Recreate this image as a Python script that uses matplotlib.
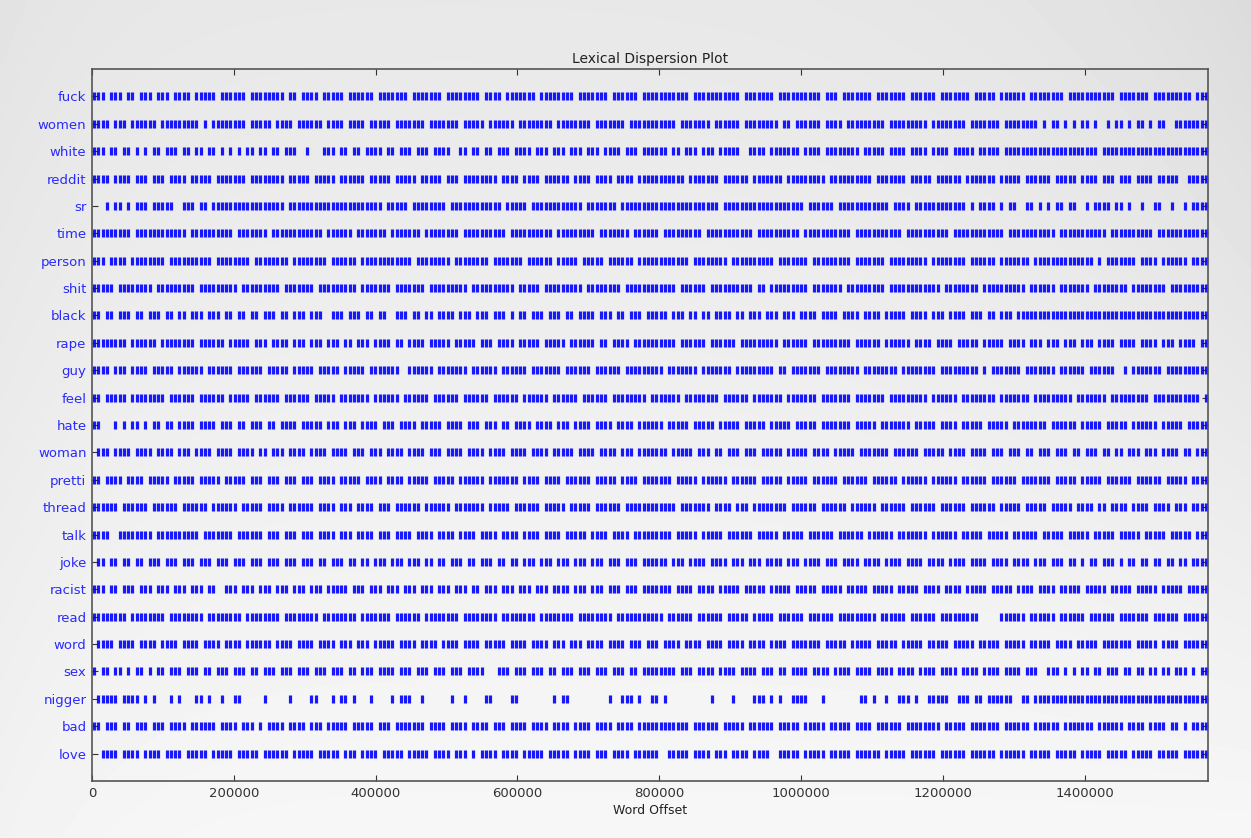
import numpy as np
import matplotlib.pyplot as plt

# words from top row to bottom row
words = ["fuck", "women", "white", "reddit", "sr", "time", "person", "shit",
         "black", "rape", "guy", "feel", "hate", "woman", "pretti", "thread",
         "talk", "joke", "racist", "read", "word", "sex", "nigger", "bad", "love"]

text_len = 1574000

# one character per slice of the text (~6000 words), '|' = word seen there
dispersion = [
    # fuck
    "||| ||| ||" " ||| ||| |" "||| ||||| " "|||||| |||" "||||| || |" "||| ||||| "
    "|||||| |||" "|||| |||||" "|| |||||||" "| |||| |||" "|||| |||||" "||| ||||||"
    "| |||||| |" "||||||||||" " |||||||||" "|| |||||||" " |||||||||" "| ||| ||||"
    "||| ||||||" "| |||||| |" "|||||| |||" "|| |||||| " "|||||||| |" "||||||||||"
    " ||||||| |" "|||||||| |" "||",
    # women
    "|||| ||| |" "||||| ||||" "||||| | ||" "|||||| |||" "|| |||| ||" "|||| |||| "
    "|||| |||||" " ||||||| |" "|||||| |||" "|| |||||| " "|||||||| |" "||||||| ||"
    "||||| ||||" "||||||| ||" "||||| ||||" "|| |||||||" "| || |||||" "| |||| |||"
    "|||||| |||" "|||||| |||" "||||| ||||" "||| ||||||" "|| | || | " "| || |  | "
    "|| | || | " "||  ||||||" "||",
    # white
    "||| || || " "| | || |||" " || || || " "| | | || |" "| || |||  " "|   ||| ||"
    " || |||| |" "| ||| ||| " "||||  || |" "| || ||| |" "||| ||| ||" "| ||| ||| "
    "|||| ||| |" "||||| || |" "|| ||| |||" "||  |||| |" "|||||| |||" "| ||||||||"
    " ||||| |||" "| |||| |||" "| ||||| ||" "||| ||||||" "||||||||||" "|||||| |||"
    "||||||||||" "||||||||||" "||",
    # reddit
    "|||| |||| " "||| ||| ||" "|| ||||| |" "|||||| |||" "||||| ||||" "| ||||| ||"
    "|||| |||||" " ||||| |||" "|| ||| |||" "||||| ||||" " |||| ||||" "|| |||| ||"
    "|| |||| ||" "||||||||| " "||||||| ||" "|||| |||||" "|| |||||||" "|| |||||||"
    "||| ||||||" "| ||||| ||" "|||| |||||" "|| ||||| |" "||||| ||||" "| |||| |||"
    " ||| |||| " "|||||  |||" "||",
    # sr
    "   | || | " "||| ||||| " " ||| || ||" "||||||||||" "||||| ||||" "||||||||||"
    "|||||||| |" "|||| |||||" "||| ||||||" "|||||| |||" "|| |||||||" "||||| ||||"
    "||| ||||||" "||||||||||" "||||||| ||" "||||||||||" "||||||| ||" "|||| |||||"
    "||||||| ||" "|| |||||||" "||||| | ||" "|| | ||  |" "| | | || |" "|  | |||| "
    "|| |  |  |" "|  |  | ||" "||",
    # time
    "||||||||| " "||||||||||" "|| |||||||" "||| ||||||" "| ||||||||" "|||| |||||"
    "| ||||||| " "||||||| ||" "|||||| |||" "||||||| ||" "|||||||| |" "|||||||| |"
    "|||||| |||" "||| ||||||" "||| ||||||" "||||| ||||" "|||||| |||" "|||||||| |"
    "||||||||||" " |||||||||" "| ||||||||" "|||| |||||" "|||||| |||" "|||||||| |"
    "||||||||| " "||||||||||" "||",
    # person
    "||| |||| |" "||||||| ||" "|||||||| |" "||||||| ||" "|||||| |||" "||||| ||||"
    "|| |||||||" "||||| ||||" "|||| |||||" "||| ||||||" "| |||||| |" "|||| |||||"
    " |||||| ||" "||||||||||" " |||||||| " "||||||||||" " ||||||| |" "|||||||| |"
    "|||||| |||" "|||||| |||" "||||| ||||" "|| |||||||" " |||||||||" "||||| | ||"
    "||||| ||||" " |||||| ||" "||",
    # shit
    "||||| ||||" "|||| |||||" "|||| |||||" "|||| |||||" "|||| |||||" "|| |||||||"
    "|| |||||||" " ||||||| |" "|||||||| |" "||||||||| " "||||| ||||" "||||| ||||"
    "|||| |||||" "||||||| ||" "|||| |||||" "||||| || |" "|||||||| |" "|||||| |||"
    "|||||| |||" "||||||||| " "|||||||| |" "||||||||| " "|||||| |||" "|||| |||||"
    "||| ||||||" "|| |||||||" "||",
    # black
    "|| || ||| " "|| ||| || " "|| ||| |||" " || || || " "||| || |||" " |||  ||| "
    "||| || || " " ||| || ||" " |||| ||| " "||| ||| | " "|| ||| |||" " || |||| |"
    "|| || ||| " "||||| ||| " "|| || ||||" " || ||| ||" "| ||| ||||" " |||| ||||"
    " |||| ||||" "| |||| |||" " |||| ||| " "|| ||| |||" "||||||||||" "||||||||||"
    "||||||||||" "||||||||||" "||",
    # rape
    "|||||||| |" "||||| ||||" "|||| |||||" "| ||||| ||" "| |||| |||" " ||| ||| |"
    "| ||| ||||" " || |||| |" "|||| |||||" " ||| |||| " "||||| ||||" "| |||||| |"
    "| |||| |||" "||||||| ||" "|||| |||||" "| ||||||||" "| |||||| |" "|||||||| |"
    "||||| ||||" "|| |||| ||" "|| ||||| |" "|||| |||| " "||| ||| ||" "| ||| ||||"
    " |||| ||||" " ||| |||| " "||",
    # guy
    "|||| ||| |" "||| ||||| " "|||||| |||" "||| ||||||" " ||||| |||" "|| ||||| |"
    "|||| |||||" "||  ||||||" " ||||||| |" "||||| ||||" "|| |||||||" " |||||| ||"
    "|||| |||||" "|||| |||||" "|| |||||||" " |||||||||" " || ||||||" "| ||||||||"
    " |||||||| " "|||||||| |" "|||||||| |" " ||||||| |" "|||||| |||" "||| ||||||"
    "  | ||||||" "| ||||||||" "||",
    # feel
    "|| ||||| |" "||||||| ||" "|||| |||||" "| ||||| ||" "|||| |||||" "| ||||| ||"
    "||||| ||||" "|| |||||| " "|||||| |||" "||| ||||||" " |||||| ||" "|||| |||||"
    "| ||||||||" " ||||||| |" "||||||| ||" "|||| |||||" "|| |||||||" " ||||||| |"
    "|||||| |||" "|||||| |||" "||| ||||||" "|| |||||||" " |||||||||" " ||||||| |"
    "|||||||| |" "||||||||||" " |",
    # hate
    "||   | | |" "| | || || " "|||| |||| " "||| || |||" " || |||| |" "|||| ||| |"
    "|| |||| ||" "| |||| |||" "|| |||| ||" "| ||| || |" "||| |||| |" "|| |||| ||"
    "|| |||| ||" "|||| |||||" " ||||| |||" "|| ||||| |" "|||| |||||" " ||||||| |"
    "|||| |||||" "|| ||||| |" "||| ||||| " "||||| ||||" "|||| |||||" "| ||||| ||"
    "||| ||||||" " ||||| |||" "||",
    # woman
    " ||| |||| " "|||| |||| " "||| |||| |" "||| |||| |" "| ||| ||||" " |||| ||||"
    " ||| ||| |" "||| |||| |" "|| |||| ||" "|| |||| ||" "|| |||| ||" "||| |||| |"
    "||| ||| ||" "||||| ||||" "| ||| || |" "|| ||| |||" "|| ||||| |" "||| ||||| "
    "||||||| ||" "|||| |||||" " |||| ||||" " ||| ||| |" "| ||| ||| " "|| ||| || "
    "|| ||| |||" " |||| || |" "||",
    # pretti
    "|| |||| ||" "|| ||||| |" "|||| |||||" " ||||| |||" " ||| ||| |" "|| |||| ||"
    "||| |||| |" "||| ||||| " "||||| ||||" "|| |||||||" " |||| ||||" " |||||| ||"
    "||| |||| |" "|||||| |||" "|| |||||| " "|||||| |||" "|| ||||| |" "||||| ||||"
    "|| |||||| " "|||||| |||" "||| ||||||" " |||||| ||" "||||| ||||" "| ||||| ||"
    "|||| |||||" "| ||||| ||" "||",
    # thread
    "|||||| |||" "||| ||||||" " |||||| ||" "|||| |||||" " |||| ||||" "|| |||| ||"
    "| |||| |||" " |||||| ||" "|||| |||||" "|| ||||| |" "||||| ||||" "| ||||| ||"
    "|||| |||||" "||||||| ||" "||||| ||||" " ||| |||||" "||| ||||||" " |||||| ||"
    "|||| |||||" "| |||||| |" "||||| ||||" "|| ||||| |" "|||| |||||" " |||| || |"
    "||| |||| |" "||| ||| ||" "||",
    # talk
    "||||  ||||" "|||| |||||" "||||| ||||" "||| ||||||" " ||| ||| |" "|| |||| ||"
    "| |||| |||" " |||| ||||" " |||| ||||" " |||| ||||" " |||| ||||" " ||||| |||"
    "| |||| |||" "|||||| |||" "|| ||||| |" "||||| ||||" "| ||||| ||" "|||| |||||"
    "| |||||| |" "|||||| |||" "||| ||||| " "||||| ||||" "|| ||||| |" "|||| |||||"
    " ||||| |||" "|| ||||| |" "||",
    # joke
    " || || || " "|| ||| |||" " ||| ||| |" "|| ||| |||" " ||| ||| |" "|| || ||| "
    "|| || ||| " "||| ||| ||" " || ||| ||" " ||| || ||" " ||| ||| |" "|| ||| |||"
    " ||| ||| |" "||||| ||| " "|||| |||| " "||| ||| ||" "|| ||| |||" "| ||| ||||"
    " |||| ||||" " |||| ||||" " |||| ||||" " |||| ||||" " ||| ||| |" "| | || |||"
    " | || || |" "| || || ||" "||",
    # racist
    "||| || |||" " ||| ||| |" "|| ||| || " " ||| ||| |" "|| ||| |||" " ||| |||||"
    " ||| ||| |" "|| ||| |||" " ||| ||| |" "| ||| ||| " "||| ||| ||" "|| ||| |||"
    " ||| ||| |" "|||||| |||" "| |||| |||" "|| ||||| |" "|||| |||||" " ||||| |||"
    "|| ||||| |" "|||| |||| " "|||| |||||" " ||||| |||" "| |||| |||" "|| ||||| |"
    "|||| |||||" " ||||| |||" "||",
    # read
    "|||||||| |" "||||||| ||" "|||||| |||" "||||| ||||" "|||| |||||" "||| ||||||"
    "|| |||||||" " |||||| ||" "|||||| |||" "||||| ||||" "|||| |||||" "||| ||||||"
    "|| |||||||" "|||| |||||" "| |||||| |" "|||| |||||" " |||||| ||" "|||| |||||"
    "|||| |||||" "| |||||| |" "||||||||  " "   |||||| " "|||||| |||" "||| ||||||"
    " ||||||| |" "||||| ||||" "||",
    # word
    " |||| ||||" " |||| ||||" " |||| ||||" " |||| ||||" "|| |||| ||" "|| |||| ||"
    "| ||| ||||" "| |||| |||" "| |||| |||" "| ||||| ||" "|| |||| ||" "| ||| ||||"
    " |||| ||| " "||| |||| |" "||| |||| |" "||| |||| |" "||| ||||||" "| ||||| ||"
    "||| ||||| " "||||| ||||" "| ||||| ||" "||| ||||| " "||||| ||||" " ||||| |||"
    "|||| |||||" " |||| ||||" "||",
    # sex
    "| || || | " "|| | || ||" "| ||| || |" "|| ||| || " "||| ||| ||" "| ||| ||| "
    "|| ||| |||" "| ||| ||| " "||| ||| ||" "||   ||| |" "|| ||| || " "||| ||| ||"
    "| ||| || |" "||||||| ||" "| |||| |||" "| |||| |||" " || |||| |" "||| |||| |"
    "||| |||| |" "||| |||| |" "||| |||| |" "||| |||| |" "||  ||| | " "| || || ||"
    "| || || ||" " || ||| | " "||",
    # nigger
    " ||||| |||" "| | |   | " "|   || |  " "|  ||     " "|     |   " " ||   | ||"
    " |   |    " "| |||  |  " "    |  |  " "  ||    ||" "        | " "||        "
    " |  ||| | " " || |     " "     |    " "|    ||| |" " |  ||||  " " |        "
    "|| |  |  |" "|| |  ||||" "|  ||| || " "||||||  ||" " |||||||||" "||||||||||"
    "||||||||||" "||||||||||" "||",
    # bad
    "|| ||| || " "||| ||| ||" "|| |||||| " "|||| ||| |" " |||| ||||" " ||| |||||"
    " ||||| |||" " ||||||| |" "||| |||| |" "||| ||| ||" "|| |||| ||" "|| |||| ||"
    "|| |||| ||" "||||||||||" " |||||| ||" "||| ||||||" " ||||| |||" "|| ||||| |"
    "||| ||||||" " |||||||| " "||||| ||||" "||| ||||||" " |||||| ||" "||||| ||||"
    "|| |||| ||" "|| || | ||" "||",
    # love
    "  |||| |||" "| |||| |||" "| ||||| ||" "||| ||||| " "|||||| |||" "|| ||||| |"
    "|| |||| ||" "||| ||||| " "|||| ||| |" " |||| ||||" " ||||| |||" "|| |||| ||"
    "| |||| |||" "|||  |||||" " |||| ||| " "|||| |||| " " ||||| |||" "|| ||||| |"
    "||||| ||||" "| |||||| |" "||||| ||||" "|| |||||| " "||||| ||||" "| ||||| ||"
    "||| ||||| " "||||| ||||" "||",
]

fig = plt.figure(figsize=(12.51, 8.38), dpi=100)

# light grey screenshot-like backdrop
bg = fig.add_axes([0, 0, 1, 1], zorder=-1)
gy, gx = np.mgrid[0:1:200j, 0:1:300j]
shade = 0.91 + 0.058 * gy - 0.05 * gx ** 6 * (1 - gy) - 0.02 * (1 - gx) ** 12
bg.imshow(shade, cmap="gray", vmin=0, vmax=1, aspect="auto",
          extent=(0, 1, 0, 1), interpolation="bilinear")
bg.set_xlim(0, 1)
bg.set_ylim(0, 1)
bg.axis("off")

ax = fig.add_axes([92 / 1251, 57 / 838, 1116 / 1251, 712 / 838])
ax.set_facecolor("none")

n = len(words)
for i, pat in enumerate(dispersion):
    cells = np.array([k for k, c in enumerate(pat) if c == "|"])
    x = (cells + 0.5) * text_len / len(pat)
    y = np.full(len(x), n - 1 - i)
    ax.plot(x, y, "|", color="#0000ff", ms=5.6, mew=2.3, alpha=0.9)

ax.set_yticks(range(n))
ax.set_yticklabels(words[::-1], color="#0000ff", fontsize=9.5)
ax.set_ylim(-1, n)
ax.set_xlim(0, text_len)
ax.set_xticks(np.arange(0, 1400001, 200000))
ax.ticklabel_format(axis="x", style="plain", useOffset=False)
ax.tick_params(direction="in", top=True, right=True, length=4, width=0.8,
               labelsize=9.5, pad=4, colors="#333333")
ax.tick_params(axis="y", labelcolor="#2a2aff")
for s in ax.spines.values():
    s.set_color("#555555")
    s.set_linewidth(1.2)

ax.set_title("Lexical Dispersion Plot", fontsize=10, color="#222222", pad=4)
ax.set_xlabel("Word Offset", fontsize=9, color="#222222", labelpad=3)

fig.savefig("out.png", dpi=100)
